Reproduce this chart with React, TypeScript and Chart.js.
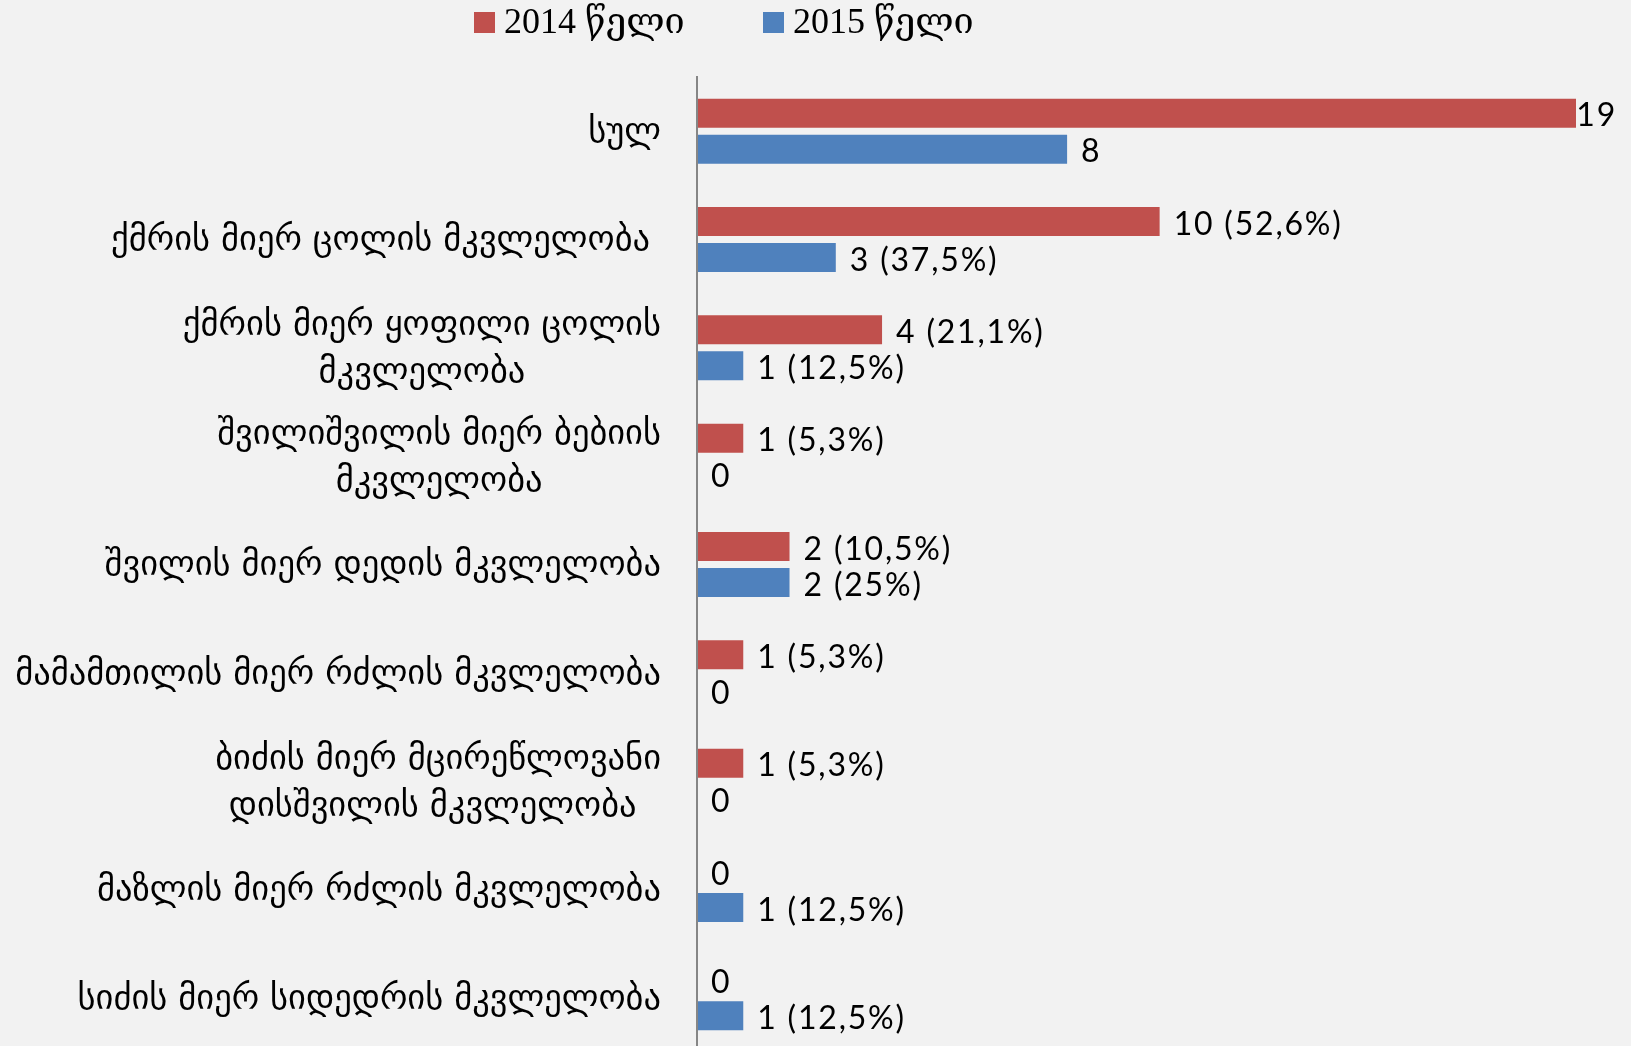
import React, { useEffect, useRef } from "react";
import { Chart, registerables } from "chart.js";

Chart.register(...registerables);

const categories: (string | string[])[] = [
  "სულ",
  "ქმრის მიერ ცოლის მკვლელობა ",
  ["ქმრის მიერ ყოფილი ცოლის", "მკვლელობა"],
  ["შვილიშვილის მიერ ბებიის", "მკვლელობა"],
  "შვილის მიერ დედის მკვლელობა",
  "მამამთილის მიერ რძლის მკვლელობა",
  ["ბიძის მიერ მცირეწლოვანი", "დისშვილის მკვლელობა "],
  "მაზლის მიერ რძლის მკვლელობა",
  "სიძის მიერ სიდედრის მკვლელობა",
];

const seriesNames = ["2014 წელი", "2015 წელი"];
const values2014 = [19, 10, 4, 1, 2, 1, 1, 0, 0];
const values2015 = [8, 3, 1, 0, 2, 0, 0, 1, 1];
const labels2014 = ["19", "10 (52,6%)", "4 (21,1%)", "1 (5,3%)", "2 (10,5%)", "1 (5,3%)", "1 (5,3%)", "0", "0"];
const labels2015 = ["8", "3 (37,5%)", "1 (12,5%)", "0", "2 (25%)", "0", "0", "1 (12,5%)", "1 (12,5%)"];
const xMax = 19;

const COLORS = ["#C0504D", "#4F81BD"];
const BG = "#F2F2F2";
const LABEL_FONT = "34.5px 'DejaVu Sans', 'Noto Sans', sans-serif";
const VALUE_FONT = "32px Lato, 'Liberation Sans', sans-serif";
const LEGEND_FONT = "36px 'Liberation Serif', 'DejaVu Serif', serif";

const bgPlugin = {
  id: "bg",
  beforeDraw(chart: any) {
    const { ctx, width, height } = chart;
    ctx.save();
    ctx.fillStyle = BG;
    ctx.fillRect(0, 0, width, height);
    ctx.restore();
  },
};

const catLabelPlugin = {
  id: "catLabels",
  afterDraw(chart: any) {
    const { ctx } = chart;
    const yScale = chart.scales.y;
    const rightEdge = chart.chartArea.left - 36;
    const lineH = 47;
    ctx.save();
    ctx.font = LABEL_FONT;
    ctx.fillStyle = "#000";
    ctx.textBaseline = "middle";
    ctx.textAlign = "center";
    categories.forEach((c, i) => {
      const lines = Array.isArray(c) ? c : [c];
      const widths = lines.map((l) => ctx.measureText(l).width);
      const maxW = Math.max(...widths);
      const cx = rightEdge - maxW / 2;
      const cy = yScale.getPixelForValue(i) + 2;
      const startY = cy - ((lines.length - 1) * lineH) / 2;
      lines.forEach((l, k) => {
        ctx.fillText(l, cx, startY + k * lineH);
      });
    });
    ctx.restore();
  },
};

const valueLabelPlugin = {
  id: "valueLabels",
  afterDatasetsDraw(chart: any) {
    const { ctx, width } = chart;
    const all = [labels2014, labels2015];
    ctx.save();
    ctx.font = VALUE_FONT;
    try {
      (ctx as any).letterSpacing = "1.8px";
    } catch (e) {}
    ctx.fillStyle = "#000";
    ctx.textBaseline = "middle";
    ctx.textAlign = "left";
    chart.data.datasets.forEach((ds: any, di: number) => {
      const meta = chart.getDatasetMeta(di);
      meta.data.forEach((bar: any, i: number) => {
        const txt = all[di][i];
        const w = ctx.measureText(txt).width;
        const x = Math.min(bar.x + 14, width - 14 - w);
        ctx.fillText(txt, x, bar.y + 3);
      });
    });
    ctx.restore();
  },
};

const legendPlugin = {
  id: "customLegend",
  afterDraw(chart: any) {
    const { ctx } = chart;
    ctx.save();
    ctx.font = LEGEND_FONT;
    ctx.textBaseline = "middle";
    ctx.textAlign = "left";
    const startX = 474;
    const itemStep = 289;
    chart.data.datasets.forEach((ds: any, i: number) => {
      const x = startX + i * itemStep;
      ctx.fillStyle = ds.backgroundColor;
      ctx.fillRect(x, 12, 21, 21);
      ctx.fillStyle = "#000";
      ctx.fillText(ds.label, x + 30, 24);
    });
    ctx.restore();
  },
};

export default function App() {
  const ref = useRef<HTMLCanvasElement>(null);
  useEffect(() => {
    if (!ref.current) return;
    const chart = new Chart(ref.current, {
      type: "bar",
      data: {
        labels: categories.map((c) => (Array.isArray(c) ? c.join(" ") : c)),
        datasets: [
          {
            label: seriesNames[0],
            data: values2014,
            backgroundColor: COLORS[0],
            borderWidth: 0,
            categoryPercentage: 0.665,
            barPercentage: 0.805,
          },
          {
            label: seriesNames[1],
            data: values2015,
            backgroundColor: COLORS[1],
            borderWidth: 0,
            categoryPercentage: 0.665,
            barPercentage: 0.805,
          },
        ],
      },
      options: {
        indexAxis: "y",
        animation: false,
        responsive: false,
        devicePixelRatio: 1,
        layout: { padding: { top: 77, right: 55, left: 0, bottom: 8 } },
        plugins: {
          legend: { display: false },
          tooltip: { enabled: false },
        },
        scales: {
          x: { display: false, min: 0, max: xMax },
          y: {
            position: "left",
            grid: { display: false },
            ticks: { display: false },
            border: { display: true, color: "#868686", width: 2, z: 1 },
            afterFit: (scale: any) => {
              scale.width = 697;
            },
          },
        },
      },
      plugins: [bgPlugin, catLabelPlugin, valueLabelPlugin, legendPlugin],
    } as any);
    return () => chart.destroy();
  }, []);
  return (
    <div
      style={{
        position: "fixed",
        left: 0,
        top: 0,
        width: 1631,
        height: 1046,
        overflow: "hidden",
        background: BG,
      }}
    >
      <canvas ref={ref} width={1631} height={1060} style={{ display: "block" }} />
    </div>
  );
}
